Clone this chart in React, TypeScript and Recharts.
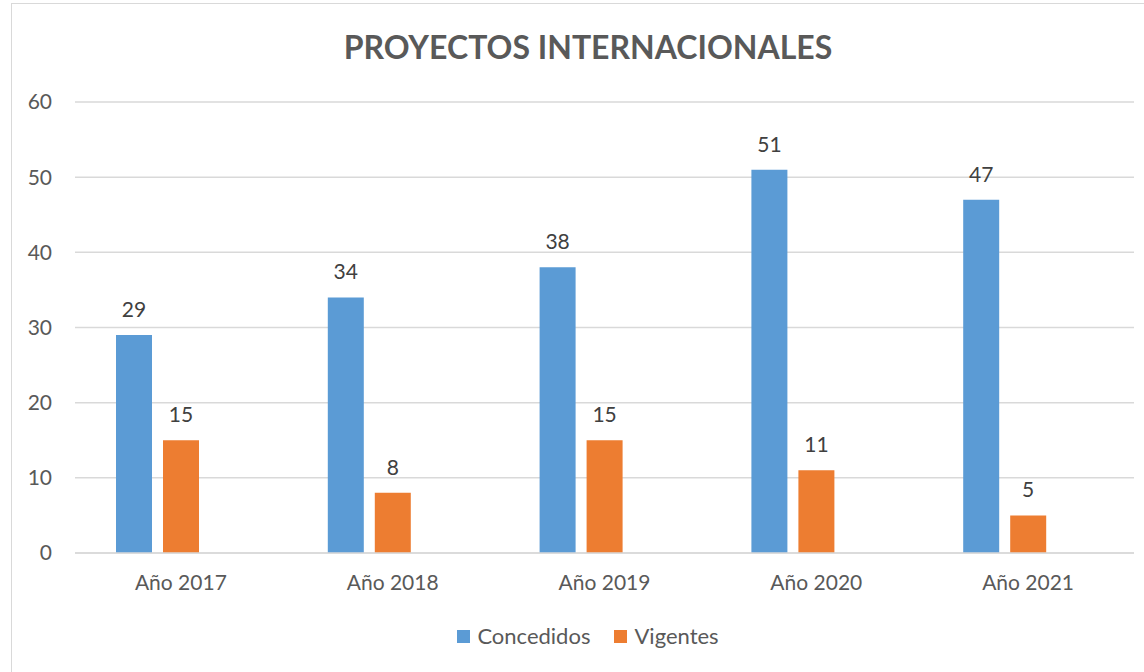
import React from "react";
import { BarChart, Bar, XAxis, YAxis, CartesianGrid, LabelList } from "recharts";

const categories = ["Año 2017", "Año 2018", "Año 2019", "Año 2020", "Año 2021"];
const concedidos = [29, 34, 38, 51, 47];
const vigentes = [15, 8, 15, 11, 5];
const yTicks = [0, 10, 20, 30, 40, 50, 60];
const title = "PROYECTOS INTERNACIONALES";
const seriesNames = ["Concedidos", "Vigentes"];
const colors = ["#5B9BD5", "#ED7D31"];

const data = categories.map((c, i) => ({
  name: c,
  concedidos: concedidos[i],
  vigentes: vigentes[i],
  blank: null,
}));

const FONT = "Lato, 'Open Sans', sans-serif";
const FS = 21;

export default function App() {
  return (
    <div style={{ position: "fixed", left: 0, top: 0, width: 1144, height: 672, overflow: "hidden", background: "#fff", fontFamily: FONT }}>
      <div style={{ position: "absolute", left: 11, top: 3, width: 1160, height: 700, border: "1px solid #D9D9D9", boxSizing: "border-box" }} />
      <div style={{ position: "absolute", left: 0, top: 27, width: 1176, textAlign: "center", fontSize: 32, lineHeight: "40px", fontWeight: 700, color: "#595959" }}>
        {title}
      </div>
      <div style={{ position: "absolute", left: 0, top: 0 }}>
        <BarChart
          width={1144}
          height={672}
          data={data}
          margin={{ top: 102, right: 10, bottom: 89, left: 0 }}
          barCategoryGap={41}
          barGap={11}
        >
          <CartesianGrid vertical={false} stroke="#D9D9D9" strokeWidth={1.5} />
          <YAxis
            width={75}
            domain={[0, 60]}
            ticks={yTicks}
            axisLine={false}
            tickLine={false}
            tickSize={0}
            tickMargin={23}
            tick={{ fill: "#595959", fontSize: FS, fontFamily: FONT }}
            interval={0}
          />
          <XAxis
            dataKey="name"
            axisLine={{ stroke: "#D9D9D9", strokeWidth: 1.5 }}
            tickLine={false}
            tickSize={0}
            tickMargin={22}
            tick={{ fill: "#595959", fontSize: FS, fontFamily: FONT }}
            interval={0}
          />
          <Bar dataKey="concedidos" fill={colors[0]} isAnimationActive={false}>
            <LabelList dataKey="concedidos" position="top" offset={18} fill="#404040" fontSize={FS} fontFamily={FONT} />
          </Bar>
          <Bar dataKey="vigentes" fill={colors[1]} isAnimationActive={false}>
            <LabelList dataKey="vigentes" position="top" offset={18} fill="#404040" fontSize={FS} fontFamily={FONT} />
          </Bar>
          <Bar dataKey="blank" fill="transparent" isAnimationActive={false} />
        </BarChart>
      </div>
      <div style={{ position: "absolute", top: 622, left: 0, width: 1176, display: "flex", justifyContent: "center", fontSize: 22, lineHeight: "28px", color: "#595959" }}>
        {seriesNames.map((n, i) => (
          <div key={n} style={{ display: "flex", alignItems: "center", marginRight: i === 0 ? 24 : 0 }}>
            <span style={{ display: "inline-block", width: 13, height: 13, background: colors[i], marginRight: 7 }} />
            <span>{n}</span>
          </div>
        ))}
      </div>
    </div>
  );
}
